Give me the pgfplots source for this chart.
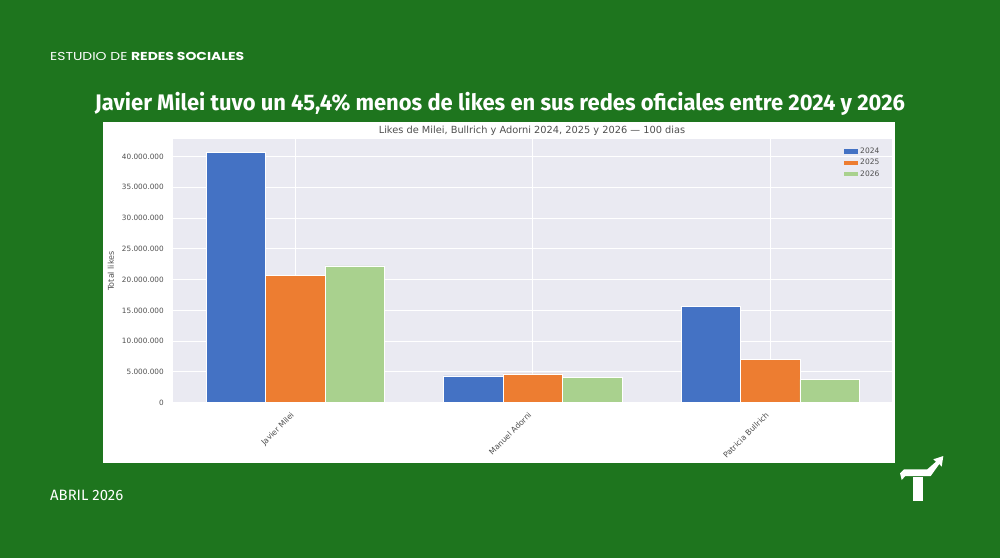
\documentclass[border=0pt]{standalone}
\usepackage{pgfplots}
\pgfplotsset{compat=1.18}
\usepackage{pgfplotstable}
\usepackage{graphicx}
\usepackage{fontspec}
\setmainfont{DejaVu Sans}
\newfontfamily\pop{Poppins}
\newfontfamily\fira{Fira Sans}
\newfontfamily\djv{DejaVu Sans}
\definecolor{bggreen}{RGB}{30,117,30}
\definecolor{sbgray}{RGB}{234,234,242}
\definecolor{c24}{RGB}{68,114,196}
\definecolor{c25}{RGB}{237,125,49}
\definecolor{c26}{RGB}{169,209,142}
\definecolor{txtgray}{RGB}{80,80,80}

\pgfplotstableread{
x  y24       y25       y26
0  40700000  20750000  22220000
1  4350000   4700000   4150000
2  15700000  7050000   3800000
}\likes

\begin{document}
\begin{tikzpicture}
\path[use as bounding box] (0pt,0pt) rectangle (1000pt,558pt);
\fill[bggreen] (0pt,0pt) rectangle (1000pt,558pt);
\fill[white] (103pt,95pt) rectangle (895pt,435.5pt);

% header texts
\node[anchor=base west, text=white, inner sep=0] at (50pt,497.5pt)
  {\resizebox{194pt}{\height}{\fontsize{11.5}{12}\pop ESTUDIO DE \textbf{REDES SOCIALES}}};
\node[anchor=base, text=white, inner sep=0] at (500pt,447.5pt)
  {\resizebox{810pt}{\height}{\fontsize{22.5}{24}\fira\bfseries Javier Milei tuvo un 45,4\% menos de likes en sus redes oficiales entre 2024 y 2026}};
\node[anchor=base west, text=white, inner sep=0] at (50pt,58pt)
  {\resizebox{73pt}{\height}{\fontsize{15}{16}\fira ABRIL 2026}};

% logo
\begin{scope}[x=1pt,y=1pt]
\fill[white] (913.3,57) rectangle (923.3,80.7);
\fill[white] (900,84.7) -- (904,88.7) -- (927.3,88.7) -- (936,96.3) -- (933.3,98.7)
  -- (943.3,102) -- (941.7,91.3) -- (939.3,94) -- (930.7,82) -- (905.3,82) -- (901.7,78) -- cycle;
\end{scope}

% chart title and y label
\node[text=txtgray, font=\fontsize{9.8}{11}\djv] at (532pt,427pt) {Likes de Milei, Bullrich y Adorni 2024, 2025 y 2026 — 100 dias};
\node[text=txtgray, font=\fontsize{8}{9}\djv, rotate=90] at (111pt,287pt) {Total likes};

\begin{axis}[
  at={(173.3pt,155.3pt)}, anchor=south west,
  width=718.4pt, height=263.4pt, scale only axis,
  xmin=-0.514, xmax=2.512, ymin=0, ymax=42800000,
  axis background/.style={fill=sbgray},
  axis line style={draw=none},
  tick style={draw=none},
  grid=major,
  major grid style={white, line width=0.9pt},
  xtick={0,1,2},
  xticklabels={Javier Milei, Manuel Adorni, Patricia Bullrich},
  xticklabel style={xshift=-5pt, yshift=-3pt, rotate=45, anchor=north east, font=\fontsize{7.8}{9}\djv, text=txtgray, inner sep=1pt},
  ytick={0,5000000,10000000,15000000,20000000,25000000,30000000,35000000,40000000},
  yticklabels={0,5.000.000,10.000.000,15.000.000,20.000.000,25.000.000,30.000.000,35.000.000,40.000.000},
  yticklabel style={font=\fontsize{7.3}{8}\djv, text=txtgray, xshift=-6pt},
  scaled y ticks=false,
  /pgf/number format/assume math mode=true,
  ybar, bar width=0.25,
  legend style={at={(0.99,0.983)}, anchor=north east, draw=none, fill=none,
    font=\fontsize{7.5}{8}\djv, text=txtgray, row sep=0.3pt},
  legend cell align=left,
  legend image code/.code={\fill[#1,draw=none] (0pt,-2.2pt) rectangle (14pt,2.2pt);},
]
\addplot[fill=c24, draw=white, line width=0.5pt, bar shift=-0.25] table[x=x,y=y24] {\likes};
\addplot[fill=c25, draw=white, line width=0.5pt, bar shift=0] table[x=x,y=y25] {\likes};
\addplot[fill=c26, draw=white, line width=0.5pt, bar shift=0.25] table[x=x,y=y26] {\likes};
\legend{2024,2025,2026}
\end{axis}
\end{tikzpicture}
\end{document}
